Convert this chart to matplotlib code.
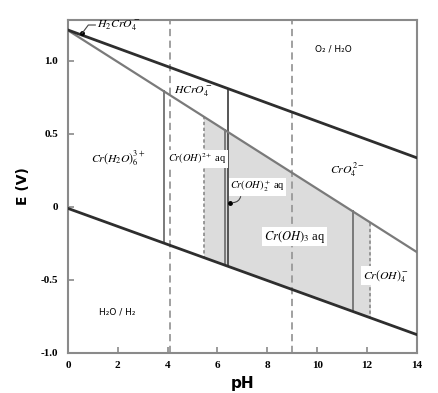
import numpy as np
import matplotlib.pyplot as plt

# water stability lines and Cr(VI)/Cr(III) boundary (pH, E) end points
ph_ends = [0, 14]
o2_line = [1.212, 0.336]
h2_line = [-0.01, -0.875]
cr_line = [1.21, -0.31]

# phase boundaries (pH)
v_cr_h2 = [3.84, 6.31, 11.43]      # solid gray, Cr line -> H2 line
v_o2_h2 = [6.44]                   # dark solid, O2 line -> H2 line
v_dotted = [5.44, 12.13]           # dotted, Cr line -> H2 line
v_dashed = [4.11, 9.0]             # full height dashed

# shaded Cr(OH)x aq region
shade_lo, shade_hi = 5.44, 12.13

# species labels: (text, pH, E, font size, white box)
labels = [
    (r"$HCrO_4^-$", 5.03, 0.787, 8.5, False),
    (r"$Cr(H_2O)_6^{3+}$", 2.03, 0.336, 8.5, False),
    (r"$Cr(OH)^{2+}$ aq", 5.2, 0.329, 7.5, True),
    (r"$Cr(OH)_2^+$ aq", 7.6, 0.138, 7.5, True),
    (r"$CrO_4^{2-}$", 11.2, 0.254, 8.5, False),
    (r"$Cr(OH)_3$ aq", 9.09, -0.204, 9, True),
    (r"$Cr(OH)_4^-$", 12.74, -0.471, 8.5, True),
]

plt.rcParams["mathtext.fontset"] = "stix"
plt.rcParams["axes.unicode_minus"] = False


def at(line, ph):
    return np.interp(ph, ph_ends, line)


fig = plt.figure(figsize=(4.38, 3.93), dpi=100)
ax = fig.add_axes([0.155, 0.102, 0.797, 0.847])
ax.set_xlim(0, 14)
ax.set_ylim(-1.0, 1.28)

gray = "#7a7a7a"
dark = "#2e2e2e"

xs = np.linspace(shade_lo, shade_hi, 50)
ax.fill_between(xs, at(h2_line, xs), at(cr_line, xs), color="#dcdcdc", lw=0, zorder=1)

for p in v_dashed:
    ax.axvline(p, color="#999999", lw=1.3, ls=(0, (4, 2.5)), zorder=2)
for p in v_dotted:
    ax.plot([p, p], [at(cr_line, p), at(h2_line, p)], color="#8a8a8a", lw=1.2,
            ls=(0, (2, 1.5)), zorder=2)
for p in v_cr_h2:
    ax.plot([p, p], [at(cr_line, p), at(h2_line, p)], color=gray, lw=1.4, zorder=3)
for p in v_o2_h2:
    ax.plot([p, p], [at(o2_line, p), at(h2_line, p)], color="#555555", lw=1.4, zorder=3)

ax.plot(ph_ends, cr_line, color=gray, lw=1.6, zorder=4)
ax.plot(ph_ends, o2_line, color=dark, lw=2.0, zorder=4)
ax.plot(ph_ends, h2_line, color=dark, lw=2.0, zorder=4)

for txt, x, y, fs, boxed in labels:
    kw = {}
    if boxed:
        kw["bbox"] = dict(facecolor="white", edgecolor="none", pad=1.0)
    ax.text(x, y, txt, fontsize=fs, family="Liberation Serif", ha="center",
            va="center", zorder=6, **kw)

# H2CrO4- pointer
ax.plot([0.57], [1.189], "o", color="black", ms=2.5, zorder=7)
ax.plot([0.57, 0.82, 1.1], [1.189, 1.246, 1.246], color="#444444", lw=0.8, zorder=7)
ax.text(1.18, 1.239, r"$H_2CrO_4^-$", fontsize=8.5, ha="left", va="center", zorder=7)

# Cr(OH)2+ pointer
ax.plot([6.52], [0.03], "o", color="black", ms=2.5, zorder=7)
ax.annotate("", xy=(6.52, 0.03), xytext=(6.95, 0.09),
            arrowprops=dict(arrowstyle="-", color="#444444", lw=0.8,
                            connectionstyle="arc3,rad=-0.5"), zorder=7)

ax.text(10.65, 1.082, "O₂ / H₂O", fontsize=6.5, ha="center", va="center")
ax.text(1.99, -0.717, "H₂O / H₂", fontsize=6.5, ha="center", va="center")

ax.set_xticks(range(0, 15, 2))
ax.set_xticklabels([str(v) for v in range(0, 15, 2)])
ax.set_yticks([-1.0, -0.5, 0, 0.5, 1.0])
ax.set_yticklabels(["-1.0", "-0.5", "0", "0.5", "1.0"])
for lab in ax.get_xticklabels() + ax.get_yticklabels():
    lab.set_fontfamily("Liberation Serif")
    lab.set_fontweight("bold")
    lab.set_fontsize(8)
ax.tick_params(axis="both", direction="in", length=4, width=1.2, color="#8a8a8a")
ax.tick_params(axis="y", pad=7)
ax.tick_params(axis="x", pad=6)
for s in ax.spines.values():
    s.set_color("#8a8a8a")
    s.set_linewidth(1.5)

ax.set_xlabel("pH", fontsize=11, fontweight="bold", labelpad=4)
ax.set_ylabel("E (V)", fontsize=10, fontweight="bold", labelpad=8)

fig.savefig("out.png", dpi=100)
